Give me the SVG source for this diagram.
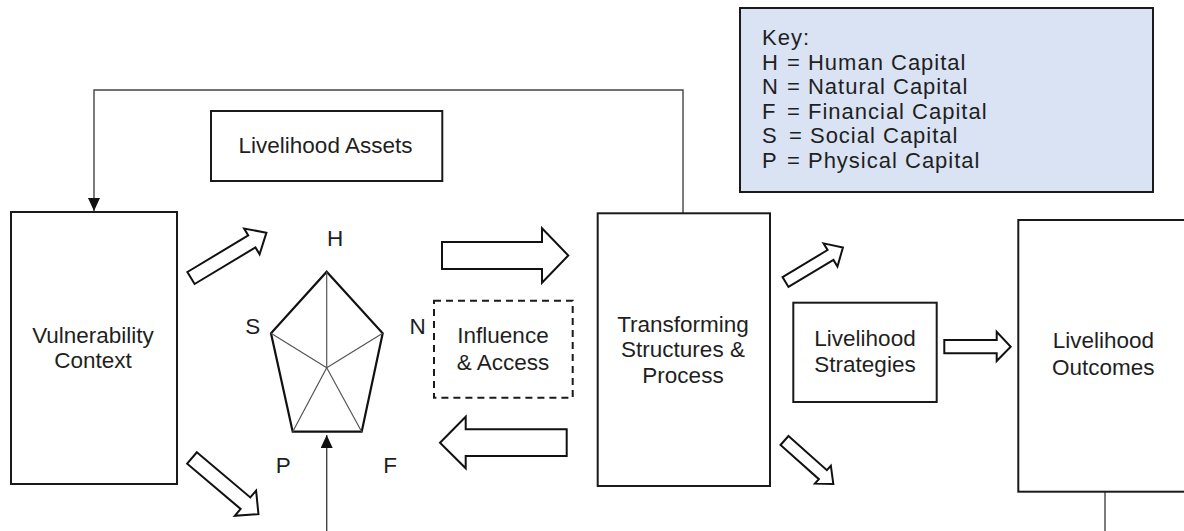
<svg xmlns="http://www.w3.org/2000/svg" width="1184" height="531" viewBox="0 0 1184 531">
<style>
.box{fill:#fff;stroke:#1a1a1a;stroke-width:2}
.dash{fill:#fff;stroke:#1a1a1a;stroke-width:2;stroke-dasharray:7,5}
.key{fill:#dae3f3;stroke:#1a1a1a;stroke-width:2}
.t{font-family:"Liberation Sans",Arial,sans-serif;font-size:22.5px;fill:#1f1f1f;text-anchor:middle}
.tl{font-family:"Liberation Sans",Arial,sans-serif;font-size:22px;letter-spacing:1px;fill:#1f1f1f}
.blk{fill:#fff;stroke:#111;stroke-width:2;stroke-linejoin:miter}
.conn{fill:none;stroke:#444;stroke-width:1.4}
.inner{stroke:#555;stroke-width:1.2;fill:none}
.outer{fill:#fff;stroke:#111;stroke-width:2.2;stroke-linejoin:miter}
</style>
<defs>
<marker id="ah" markerUnits="userSpaceOnUse" markerWidth="14" markerHeight="14" refX="13" refY="6" orient="auto">
<path d="M0,0 L13,6 L0,12 z" fill="#111"/>
</marker>
</defs>
<rect width="1184" height="531" fill="#fff"/>

<g id="connectors">
<path class="conn" d="M683,213 V90 H94 V211" marker-end="url(#ah)"/>
<path class="conn" d="M326.7,531 V435" marker-end="url(#ah)"/>
<path class="conn" d="M1105,492 V531"/>
</g>

<g id="block-arrows">
<polygon class="blk" transform="translate(191,278) rotate(-31)" points="0,-7 71,-7 71,-15 88,0 71,15 71,7 0,7"/>
<polygon class="blk" transform="translate(192,458) rotate(40.2)" points="0,-7.5 70,-7.5 70,-16.5 87,0 70,16.5 70,7.5 0,7.5"/>
<polygon class="blk" transform="translate(785.5,282) rotate(-31)" points="0,-5.75 52.5,-5.75 52.5,-13.5 67,0 52.5,13.5 52.5,5.75 0,5.75"/>
<polygon class="blk" transform="translate(784.5,440.5) rotate(41.7)" points="0,-6 51.4,-6 51.4,-12 65.4,0 51.4,12 51.4,6 0,6"/>
<polygon class="blk" points="442,242 542,242 542,228.3 568.3,255.5 542,282.7 542,269 442,269"/>
<polygon class="blk" points="566.7,429.3 465.7,429.3 465.7,416.7 440,442.7 465.7,468.3 465.7,456 566.7,456"/>
<polygon class="blk" points="944.3,340 996.7,340 996.7,331.7 1010.7,346.7 996.7,361 996.7,353.3 944.3,353.3"/>
</g>

<g id="vulnerability">
<rect class="box" x="11" y="212" width="166" height="272"/>
<text class="t" x="93" y="342.7">Vulnerability</text>
<text class="t" x="93" y="368.3">Context</text>
</g>

<g id="livelihood-assets">
<rect class="box" x="211" y="111" width="231.3" height="70"/>
<text class="t" x="325.5" y="153.3">Livelihood Assets</text>
</g>

<g id="pentagon">
<polygon class="outer" points="326.7,271.7 382.7,333.3 361.7,431.7 292.7,431.7 271,333.3"/>
<path class="inner" d="M326.7,271.7 L326.7,367.7 M382.7,333.3 L326.7,367.7 M361.7,431.7 L326.7,367.7 M292.7,431.7 L326.7,367.7 M271,333.3 L326.7,367.7"/>
<text class="t" x="335" y="245.7">H</text>
<text class="t" x="252.7" y="334">S</text>
<text class="t" x="417.7" y="334">N</text>
<text class="t" x="283.3" y="473.3">P</text>
<text class="t" x="390" y="473.3">F</text>
</g>

<g id="influence">
<rect class="dash" x="434" y="300.7" width="138.7" height="97"/>
<text class="t" x="503" y="343.3">Influence</text>
<text class="t" x="503" y="370">&amp; Access</text>
</g>

<g id="transforming">
<rect class="box" x="597.7" y="213.3" width="172.3" height="272.7"/>
<text class="t" x="683" y="331.7">Transforming</text>
<text class="t" x="683" y="357.3">Structures &amp;</text>
<text class="t" x="683" y="383.3">Process</text>
</g>

<g id="strategies">
<rect class="box" x="793.3" y="302.7" width="143.4" height="99.3"/>
<text class="t" x="865" y="345.7">Livelihood</text>
<text class="t" x="865" y="372.3">Strategies</text>
</g>

<g id="outcomes">
<rect class="box" x="1018.3" y="220" width="190" height="271.7"/>
<text class="t" x="1103.3" y="348.3">Livelihood</text>
<text class="t" x="1103.3" y="375">Outcomes</text>
</g>

<g id="key">
<rect class="key" x="740" y="8" width="413" height="184"/>
<text class="tl" x="762" y="45">Key:</text>
<text class="tl" x="762" y="69.5">H</text>
<text class="tl" x="787" y="69.5">= Human Capital</text>
<text class="tl" x="762" y="94">N</text>
<text class="tl" x="787" y="94">= Natural Capital</text>
<text class="tl" x="762" y="118.5">F</text>
<text class="tl" x="787" y="118.5">= Financial Capital</text>
<text class="tl" x="762" y="143">S</text>
<text class="tl" x="789" y="143">= Social Capital</text>
<text class="tl" x="762" y="167.5">P</text>
<text class="tl" x="787" y="167.5">= Physical Capital</text>
</g>
</svg>
